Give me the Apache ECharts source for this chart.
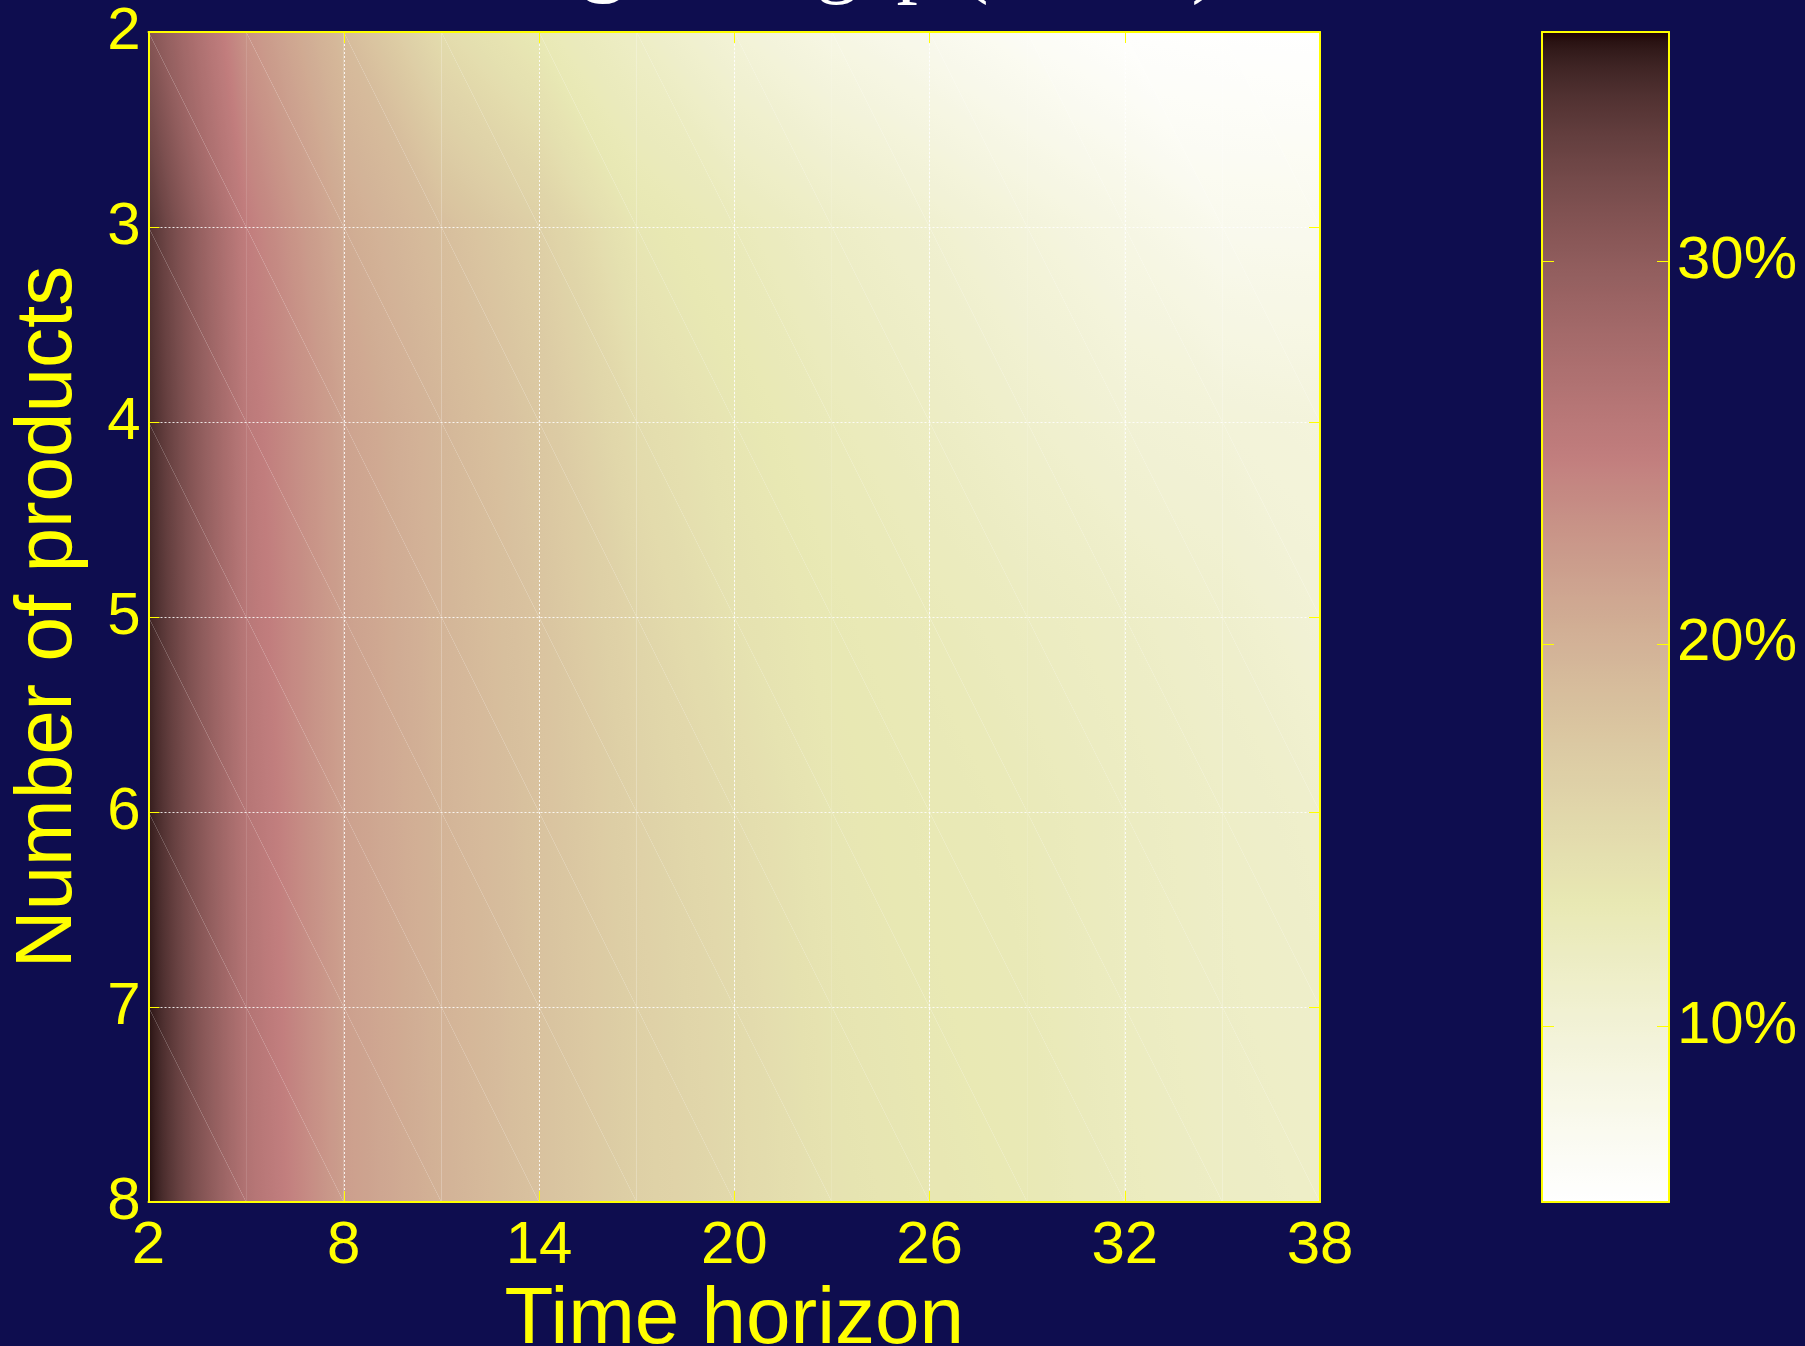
<!DOCTYPE html>
<html>
<head>
<meta charset="utf-8">
<script src="https://cdn.jsdelivr.net/npm/echarts@6/dist/echarts.min.js"></script>
<style>
html,body{margin:0;padding:0;background:#0e0d4f;}
#chart{width:1805px;height:1346px;}
</style>
</head>
<body>
<div id="chart"></div>
<script>
// ---------------- data ----------------
const timeHorizon = [2, 5, 8, 11, 14, 17, 20, 23, 26, 29, 32, 35, 38];
const numProducts = [2, 3, 4, 5, 6, 7, 8];
// gap (%) per time horizon, one array per number of products
const gapN2 = [31.0, 23.1, 18.9, 14.9, 13.0, 11.5, 9.8, 8.5, 7.5, 6.5, 5.7, 5.5, 5.4];
const gapN3 = [34.3, 25.0, 20.7, 18.6, 16.5, 13.5, 12.6, 11.5, 10.6, 9.5, 8.5, 7.5, 7.4];
const gapN4 = [34.9, 25.6, 21.6, 19.5, 17.5, 14.9, 13.5, 12.6, 11.8, 10.9, 10.1, 9.7, 9.4];
const gapN5 = [35.2, 25.9, 21.8, 19.7, 17.9, 15.8, 14.1, 13.2, 12.7, 12.1, 11.5, 10.9, 10.0];
const gapN6 = [35.5, 26.2, 21.8, 19.8, 18.1, 16.3, 14.9, 13.5, 13.05, 12.7, 12.0, 11.4, 10.9];
const gapN7 = [35.8, 26.5, 21.9, 19.9, 18.2, 16.5, 15.2, 13.8, 13.2, 12.9, 12.1, 11.5, 11.2];
const gapN8 = [36.0, 26.7, 22.0, 20.0, 18.2, 16.5, 15.3, 14.0, 13.4, 13.05, 12.3, 11.7, 11.4];
const xTickValues = [2, 8, 14, 20, 26, 32, 38];
const yTickValues = [2, 3, 4, 5, 6, 7, 8];
const colorbarTicks = [10, 20, 30];
const colorMin = 5.4;
const colorMax = 36.0;
const titleBold = 'Average';
const titleRest = ' rel. gap (MILP)';

const gapRows = [gapN2, gapN3, gapN4, gapN5, gapN6, gapN7, gapN8];

// ---------------- colormap (flipped MATLAB "pink") ----------------
function pinkRGB(s) {
  const k = 63 * s + 1;
  const r = Math.min(1, k / 24);
  const g = Math.min(1, Math.max(0, (k - 24) / 24));
  const b = Math.min(1, Math.max(0, (k - 48) / 16));
  return [Math.sqrt((2 * s + r) / 3), Math.sqrt((2 * s + g) / 3), Math.sqrt((2 * s + b) / 3)]
    .map(c => Math.round(Math.min(1, c) * 255));
}
function colorOf(v) {
  let t = (v - colorMin) / (colorMax - colorMin);
  t = Math.max(0, Math.min(1, t));
  const c = pinkRGB(1 - t);
  return 'rgb(' + c[0] + ',' + c[1] + ',' + c[2] + ')';
}
function triFill(pts, vals) {
  const p0 = pts[0], p1 = pts[1], p2 = pts[2];
  const v0 = vals[0], v1 = vals[1], v2 = vals[2];
  const lo = Math.min(v0, v1, v2), hi = Math.max(v0, v1, v2);
  if (hi - lo < 1e-6) return colorOf(lo);
  const e1x = p1[0] - p0[0], e1y = p1[1] - p0[1];
  const e2x = p2[0] - p0[0], e2y = p2[1] - p0[1];
  const d1 = v1 - v0, d2 = v2 - v0;
  const det = e1x * e2y - e1y * e2x;
  if (Math.abs(det) < 1e-9) return colorOf((lo + hi) / 2);
  const gx = (d1 * e2y - e1y * d2) / det;
  const gy = (e1x * d2 - d1 * e2x) / det;
  const g2 = gx * gx + gy * gy;
  const ax = p0[0] + gx * (lo - v0) / g2, ay = p0[1] + gy * (lo - v0) / g2;
  const bx = p0[0] + gx * (hi - v0) / g2, by = p0[1] + gy * (hi - v0) / g2;
  const n = Math.max(4, Math.ceil((hi - lo) / 0.25));
  const stops = [];
  for (let k = 0; k <= n; k++) stops.push({offset: k / n, color: colorOf(lo + (hi - lo) * k / n)});
  return new echarts.graphic.LinearGradient(ax, ay, bx, by, stops, true);
}

// cells for the interpolated surface
const cells = [];
for (let j = 0; j < numProducts.length - 1; j++) {
  for (let i = 0; i < timeHorizon.length - 1; i++) {
    cells.push([timeHorizon[i], timeHorizon[i + 1], numProducts[j], numProducts[j + 1],
      gapRows[j][i], gapRows[j][i + 1], gapRows[j + 1][i], gapRows[j + 1][i + 1]]);
  }
}

const YEL = '#ffff00';
const BG = '#0e0d4f';
const labelFont = 'Liberation Sans';

const chart = echarts.init(document.getElementById('chart'), null, {renderer: 'canvas'});
chart.setOption({
  backgroundColor: BG,
  animation: false,
  title: {
    text: '{b|' + titleBold + '}' + titleRest,
    left: 362,
    top: -83,
    textStyle: {
      color: '#ffffff', fontFamily: 'Liberation Serif', fontSize: 85, fontWeight: 'normal',
      rich: {b: {color: '#ffffff', fontFamily: 'Liberation Serif', fontSize: 85, fontWeight: 'bold'}}
    }
  },
  grid: [
    {left: 148.5, top: 32, width: 1171.5, height: 1170, show: true, backgroundColor: '#ffffff', borderWidth: 0,
      outerBoundsMode: 'none', containLabel: false},
    {left: 1542, top: 32, width: 127, height: 1170, show: false, outerBoundsMode: 'none', containLabel: false}
  ],
  xAxis: [
    {
      gridIndex: 0, type: 'value', min: 2, max: 38, position: 'bottom', z: 5,
      name: 'Time horizon', nameLocation: 'middle', nameGap: 61,
      nameTextStyle: {color: YEL, fontFamily: labelFont, fontSize: 80},
      axisLine: {show: true, onZero: false, lineStyle: {color: YEL, width: 2}},
      axisTick: {show: true, inside: true, length: 11, customValues: xTickValues, lineStyle: {color: YEL, width: 1}},
      axisLabel: {show: true, customValues: xTickValues, color: YEL, fontFamily: labelFont, fontSize: 60, margin: 14},
      splitLine: {show: true, lineStyle: {color: 'rgba(255,255,255,0.85)', width: 1, type: [2, 2]}}
    },
    {
      gridIndex: 0, type: 'value', min: 2, max: 38, position: 'top', z: 5,
      axisLine: {show: true, onZero: false, lineStyle: {color: YEL, width: 2}},
      axisTick: {show: true, inside: true, length: 11, customValues: xTickValues, lineStyle: {color: YEL, width: 1}},
      axisLabel: {show: false},
      splitLine: {show: false}
    },
    {
      gridIndex: 1, type: 'value', min: 0, max: 1, position: 'bottom', z: 5,
      axisLine: {show: true, onZero: false, lineStyle: {color: YEL, width: 2}},
      axisTick: {show: false}, axisLabel: {show: false}, splitLine: {show: false}
    },
    {
      gridIndex: 1, type: 'value', min: 0, max: 1, position: 'top', z: 5,
      axisLine: {show: true, onZero: false, lineStyle: {color: YEL, width: 2}},
      axisTick: {show: false}, axisLabel: {show: false}, splitLine: {show: false}
    }
  ],
  yAxis: [
    {
      gridIndex: 0, type: 'value', min: 2, max: 8, interval: 1, inverse: true, position: 'left', z: 5,
      name: 'Number of products', nameLocation: 'middle', nameGap: 60,
      nameTextStyle: {color: YEL, fontFamily: labelFont, fontSize: 80},
      axisLine: {show: true, onZero: false, lineStyle: {color: YEL, width: 2}},
      axisTick: {show: true, inside: true, length: 11, lineStyle: {color: YEL, width: 1}},
      axisLabel: {show: true, customValues: yTickValues, color: YEL, fontFamily: labelFont, fontSize: 60, margin: 8,
        padding: [9, 0, 0, 0]},
      splitLine: {show: true, lineStyle: {color: 'rgba(255,255,255,0.85)', width: 1, type: [2, 2]}}
    },
    {
      gridIndex: 0, type: 'value', min: 2, max: 8, interval: 1, inverse: true, position: 'right', z: 5,
      axisLine: {show: true, onZero: false, lineStyle: {color: YEL, width: 2}},
      axisTick: {show: true, inside: true, length: 11, lineStyle: {color: YEL, width: 1}},
      axisLabel: {show: false}, splitLine: {show: false}
    },
    {
      gridIndex: 1, type: 'value', min: colorMin, max: colorMax, position: 'right', z: 5,
      axisLine: {show: true, onZero: false, lineStyle: {color: YEL, width: 2}},
      axisTick: {show: true, inside: true, length: 12, customValues: colorbarTicks, lineStyle: {color: YEL, width: 1}},
      axisLabel: {show: true, customValues: colorbarTicks, formatter: '{value}%', color: YEL,
        fontFamily: labelFont, fontSize: 60, margin: 8, padding: [8, 0, 0, 0]},
      splitLine: {show: false}
    },
    {
      gridIndex: 1, type: 'value', min: colorMin, max: colorMax, position: 'left', z: 5,
      axisLine: {show: true, onZero: false, lineStyle: {color: YEL, width: 2}},
      axisTick: {show: true, inside: true, length: 12, customValues: colorbarTicks, lineStyle: {color: YEL, width: 1}},
      axisLabel: {show: false}, splitLine: {show: false}
    }
  ],
  series: [
    {
      type: 'custom', name: 'gap surface', xAxisIndex: 0, yAxisIndex: 0, silent: true, z: 2,
      encode: {x: [0, 1], y: [2, 3]},
      data: cells,
      renderItem: function (params, api) {
        const x0 = api.value(0), x1 = api.value(1), y0 = api.value(2), y1 = api.value(3);
        const a = api.coord([x0, y0]), b = api.coord([x1, y0]);
        const c = api.coord([x0, y1]), d = api.coord([x1, y1]);
        const vA = api.value(4), vB = api.value(5), vC = api.value(6), vD = api.value(7);
        return {
          type: 'group',
          children: [
            {type: 'polygon', shape: {points: [a, b, d]}, style: {fill: triFill([a, b, d], [vA, vB, vD])}},
            {type: 'polygon', shape: {points: [a, c, d]}, style: {fill: triFill([a, c, d], [vA, vC, vD])}}
          ]
        };
      }
    },
    {
      type: 'custom', name: 'colorbar', xAxisIndex: 2, yAxisIndex: 2, silent: true, z: 2,
      encode: {x: [0, 1], y: [2, 3]},
      data: [[0, 1, colorMin, colorMax]],
      renderItem: function (params, api) {
        const p0 = api.coord([api.value(0), api.value(3)]);
        const p1 = api.coord([api.value(1), api.value(2)]);
        const stops = [];
        const n = 128;
        for (let k = 0; k <= n; k++) {
          const v = colorMin + (colorMax - colorMin) * k / n;
          stops.push({offset: k / n, color: colorOf(v)});
        }
        return {
          type: 'rect',
          shape: {x: p0[0], y: p0[1], width: p1[0] - p0[0], height: p1[1] - p0[1]},
          style: {fill: new echarts.graphic.LinearGradient(p0[0], p1[1], p0[0], p0[1], stops, true)}
        };
      }
    }
  ]
});
</script>
</body>
</html>
